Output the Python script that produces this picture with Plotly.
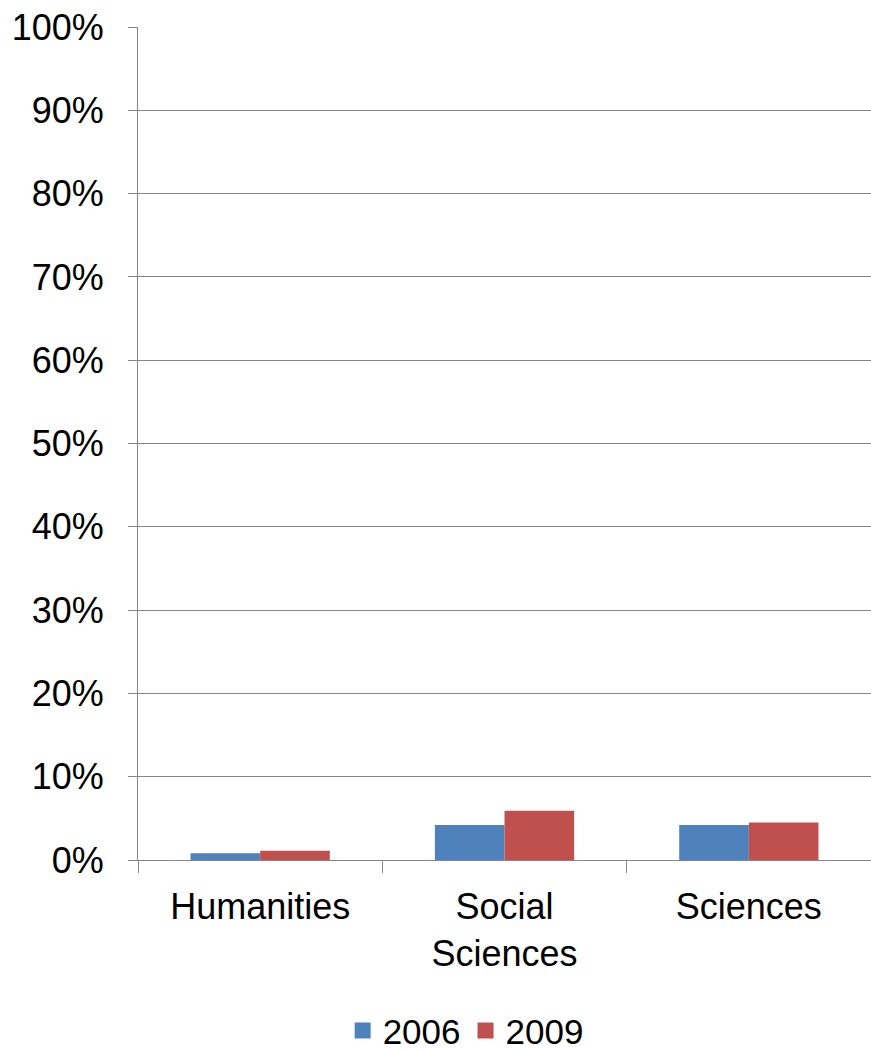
import plotly.graph_objects as go

categories = ["Humanities", "Social<br>Sciences", "Sciences"]
series_names = ["2006", "2009"]
values_2006 = [0.008, 0.042, 0.042]
values_2009 = [0.011, 0.059, 0.045]
colors = ["#4F81BD", "#C0504D"]
y_ticks = [i / 10 for i in range(11)]

fig = go.Figure()
for name, vals, col in zip(series_names, [values_2006, values_2009], colors):
    fig.add_trace(go.Bar(x=categories, y=vals, name=name, showlegend=False,
                         marker=dict(color=col, line=dict(width=0))))
# legend entries with larger square symbols
for name, col in zip(series_names, colors):
    fig.add_trace(go.Scatter(x=[None], y=[None], mode="markers", name=name,
                             marker=dict(symbol="square", size=20, color=col)))

font = "Liberation Sans, Arial, sans-serif"
fig.update_layout(
    width=871, height=1050,
    margin=dict(l=138, r=0, t=27, b=190, autoexpand=False),
    paper_bgcolor="white", plot_bgcolor="white",
    barmode="group", bargap=0.43, bargroupgap=0,
    font=dict(family=font, size=36, color="black"),
    showlegend=True,
    legend=dict(orientation="h", x=0.447, xanchor="center", y=-0.205, yanchor="middle",
                font=dict(size=35), traceorder="normal", itemwidth=30,
                tracegroupgap=0, borderwidth=0),
    xaxis=dict(showgrid=False, showline=True, linecolor="#868686", linewidth=1,
               ticks="outside", ticklen=12, tickcolor="#868686", tickson="boundaries",
               tickfont=dict(size=36), ticklabelstandoff=15, automargin=False),
    yaxis=dict(range=[0, 1], tickvals=y_ticks, tickformat=".0%",
               showgrid=True, gridcolor="#868686", gridwidth=1,
               showline=True, linecolor="#868686", linewidth=1,
               ticks="outside", ticklen=9, tickcolor="#868686",
               tickfont=dict(size=36), ticklabelstandoff=17, zeroline=False,
               automargin=False),
)
fig.write_html("out.html", config={"displayModeBar": False},
               post_script="document.body.style.margin='0px';")
